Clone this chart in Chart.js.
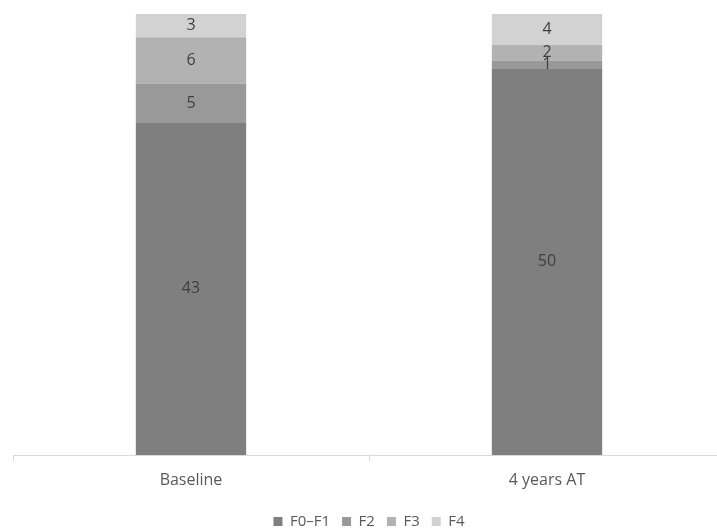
<!DOCTYPE html>
<html>
<head>
<meta charset="utf-8">
<script src="https://cdn.jsdelivr.net/npm/chart.js@4"></script>
<style>
  html, body { margin: 0; padding: 0; background: #fff; overflow: hidden; }
  #wrap { width: 730px; height: 530px; position: relative; }
</style>
</head>
<body>
<div id="wrap"><canvas id="chart"></canvas></div>
<script>
// Fibrosis stage counts per time point
const categories = ['Baseline', '4 years AT'];
const seriesNames = ['F0\u2013F1', 'F2', 'F3', 'F4'];
const f0f1 = [43, 50];
const f2 = [5, 1];
const f3 = [6, 2];
const f4 = [3, 4];
const seriesColors = ['#7f7f7f', '#999999', '#b2b2b2', '#d2d2d2'];

const seriesValues = [f0f1, f2, f3, f4];
const FONT = '"Open Sans", "Noto Sans", sans-serif';

// Writes each segment's value at its centre
const segmentLabels = {
  id: 'segmentLabels',
  afterDatasetsDraw(chart) {
    const ctx = chart.ctx;
    ctx.save();
    ctx.font = '16px ' + FONT;
    ctx.fillStyle = '#404040';
    ctx.textAlign = 'center';
    ctx.textBaseline = 'middle';
    chart.data.datasets.forEach((ds, i) => {
      const meta = chart.getDatasetMeta(i);
      meta.data.forEach((bar, j) => {
        const v = ds.data[j];
        const y = (bar.y + bar.base) / 2;
        ctx.fillText(String(v), bar.x, y);
      });
    });
    ctx.restore();
  }
};

new Chart(document.getElementById('chart'), {
  type: 'bar',
  data: {
    labels: categories,
    datasets: seriesNames.map((name, i) => ({
      label: name,
      data: seriesValues[i],
      backgroundColor: seriesColors[i],
      borderWidth: 0,
      barPercentage: 0.31,
      categoryPercentage: 1.0
    }))
  },
  options: {
    responsive: true,
    maintainAspectRatio: false,
    animation: false,
    layout: { padding: { left: 13, right: 5, top: 14, bottom: -9 } },
    scales: {
      x: {
        stacked: true,
        border: { display: true, color: '#d9d9d9', width: 1 },
        grid: {
          offset: true,
          drawOnChartArea: false,
          drawTicks: true,
          tickLength: 6,
          color: '#d9d9d9'
        },
        ticks: {
          color: '#595959',
          font: { family: FONT, size: 16 },
          padding: 10
        },
        afterFit(scale) { scale.height = 47; }
      },
      y: {
        stacked: true,
        display: false,
        min: 0,
        max: 57
      }
    },
    plugins: {
      tooltip: { enabled: false },
      legend: {
        position: 'bottom',
        labels: {
          boxWidth: 9,
          boxHeight: 9,
          color: '#595959',
          font: { family: FONT, size: 15 },
          padding: 12
        }
      }
    }
  },
  plugins: [segmentLabels]
});
</script>
</body>
</html>
